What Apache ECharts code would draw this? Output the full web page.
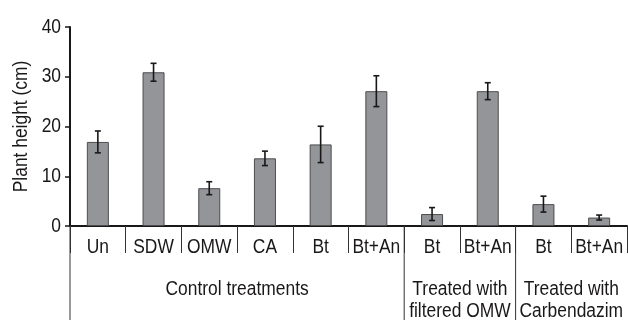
<!DOCTYPE html>
<html>
<head>
<meta charset="utf-8">
<script src="https://cdn.jsdelivr.net/npm/echarts@6/dist/echarts.min.js"></script>
<style>
html,body{margin:0;padding:0;background:#fff;}
#chart{width:628px;height:320px;}
</style>
</head>
<body>
<div id="chart"></div>
<script>
// ---- data ----
const categories = ['Un', 'SDW', 'OMW', 'CA', 'Bt', 'Bt+An', 'Bt', 'Bt+An', 'Bt', 'Bt+An'];
const heights = [16.9, 30.9, 7.6, 13.6, 16.4, 27.1, 2.4, 27.1, 4.4, 1.7];
const errors = [2.2, 1.8, 1.3, 1.45, 3.65, 3.1, 1.3, 1.7, 1.6, 0.5];
const groupNames = ['Control treatments', 'Treated with\nfiltered OMW', 'Treated with\nCarbendazim'];
const groupStart = [0, 6, 8];
const groupEnd = [5, 7, 9];
const yTicks = [0, 10, 20, 30, 40];
const yTitle = 'Plant height (cm)';

const FONT = '"Liberation Sans", Arial, sans-serif';
const FS = 20;
const SX = 0.87; // condensed look
const TXT = '#1a1718';

const errData = heights.map((h, i) => [i, h - errors[i], h + errors[i]]);
const groupData = groupNames.map((n, i) => [groupStart[i], groupEnd[i], i]);
const xLabelData = categories.map((c, i) => [i, 0]);
const yLabelData = yTicks.map((v) => [0, v]);

function txt(x, y, text, align, vAlign, extra) {
  return Object.assign({
    type: 'text', x: x, y: y, scaleX: SX,
    style: {text: text, fill: TXT, font: FS + 'px ' + FONT, align: align, verticalAlign: vAlign, lineHeight: 22}
  }, extra || {});
}

const chart = echarts.init(document.getElementById('chart'), null, {renderer: 'canvas'});
chart.setOption({
  animation: false,
  backgroundColor: '#ffffff',
  grid: {left: 70, right: 1, top: 27, bottom: 94},
  xAxis: {
    type: 'category',
    data: categories,
    boundaryGap: true,
    axisLine: {show: true, lineStyle: {color: TXT, width: 2}},
    axisTick: {show: true, interval: 0, length: 27, lineStyle: {color: '#333', width: 1}},
    axisLabel: {show: false}
  },
  yAxis: {
    type: 'value',
    min: yTicks[0],
    max: yTicks[yTicks.length - 1],
    interval: 10,
    splitLine: {show: false},
    axisLine: {show: true, lineStyle: {color: TXT, width: 2}},
    axisTick: {show: true, length: 5, lineStyle: {color: TXT, width: 1.5}},
    axisLabel: {show: false}
  },
  series: [
    {
      type: 'bar',
      data: heights,
      barWidth: 22,
      silent: true,
      itemStyle: {color: '#939598', borderColor: '#4d4d4f', borderWidth: 1}
    },
    {
      type: 'custom',
      silent: true,
      data: errData,
      z: 5,
      renderItem: function (params, api) {
        const i = api.value(0);
        const lo = api.coord([i, api.value(1)]);
        const hi = api.coord([i, api.value(2)]);
        const cap = 3;
        const st = {stroke: TXT, lineWidth: 1.6};
        return {
          type: 'group',
          children: [
            {type: 'line', shape: {x1: lo[0], y1: lo[1], x2: hi[0], y2: hi[1]}, style: st},
            {type: 'line', shape: {x1: lo[0] - cap, y1: lo[1], x2: lo[0] + cap, y2: lo[1]}, style: st},
            {type: 'line', shape: {x1: hi[0] - cap, y1: hi[1], x2: hi[0] + cap, y2: hi[1]}, style: st}
          ]
        };
      }
    },
    {
      // category labels
      type: 'custom',
      silent: true,
      clip: false,
      data: xLabelData,
      z: 5,
      renderItem: function (params, api) {
        const p = api.coord([api.value(0), 0]);
        return txt(p[0], p[1] + 21, categories[params.dataIndex], 'center', 'middle');
      }
    },
    {
      // y tick labels and axis title
      type: 'custom',
      silent: true,
      clip: false,
      data: yLabelData,
      z: 5,
      renderItem: function (params, api) {
        const band = api.size([1, 0])[0];
        const p = api.coord([0, api.value(1)]);
        const items = [txt(p[0] - band / 2 - 9, p[1], String(yTicks[params.dataIndex]), 'right', 'middle')];
        if (params.dataIndex === 0) {
          const top = api.coord([0, yTicks[yTicks.length - 1]]);
          items.push(txt(21, (p[1] + top[1]) / 2, yTitle, 'center', 'middle', {rotation: Math.PI / 2}));
        }
        return {type: 'group', children: items};
      }
    },
    {
      // group dividers and group labels
      type: 'custom',
      silent: true,
      clip: false,
      data: groupData,
      z: 5,
      renderItem: function (params, api) {
        const s = api.value(0), e = api.value(1), gi = api.value(2);
        const band = api.size([1, 0])[0];
        const ps = api.coord([s, 0]);
        const pe = api.coord([e, 0]);
        const xl = ps[0] - band / 2;
        const xr = pe[0] + band / 2;
        const y0 = ps[1];
        return {
          type: 'group',
          children: [
            {type: 'line', shape: {x1: xl, y1: y0, x2: xl, y2: api.getHeight()}, style: {stroke: '#333', lineWidth: 1}},
            txt((xl + xr) / 2, y0 + 52, groupNames[gi], 'center', 'top')
          ]
        };
      }
    }
  ]
});
</script>
</body>
</html>
